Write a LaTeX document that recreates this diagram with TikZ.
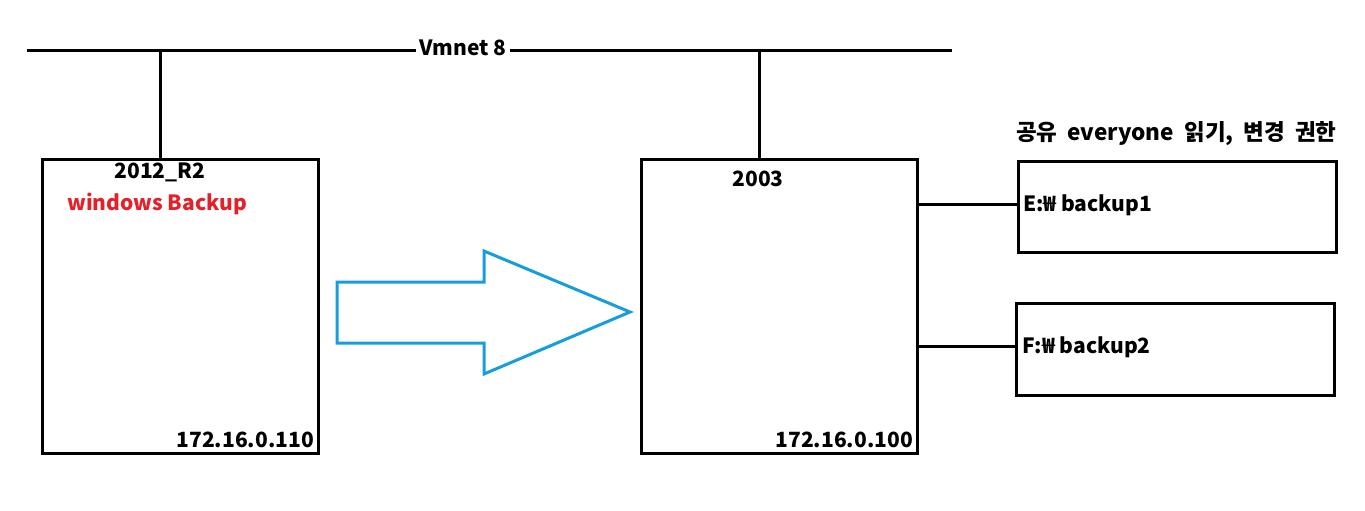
\documentclass[tikz,border=0pt]{standalone}
\usepackage{fontspec}
\setmainfont{Noto Sans CJK KR}
\definecolor{redtxt}{RGB}{228,32,40}
\definecolor{bluearrow}{RGB}{22,158,218}
\newcommand\hdrgap{\spaceskip=0.45em\relax}
\tikzset{
  every node/.style={font=\fontsize{21}{25}\selectfont\bfseries, inner sep=0pt},
  box/.style={draw=black, line width=3pt, anchor=north west},
  wire/.style={draw=black, line width=3pt},
  hdr/.style={font=\fontsize{22.5}{27}\selectfont\bfseries\hdrgap},
}
\begin{document}
\begin{tikzpicture}[x=1pt,y=-1pt]
\useasboundingbox (0,0) rectangle (1365,511);
% network line
\coordinate (netL) at (27,51);
\coordinate (netR) at (952,51);
\draw[wire] (netL) -- (netR);
\node[fill=white, inner xsep=4pt] (vm) at (463,48) {Vmnet 8};
% boxes
\node[box, minimum width=276pt, minimum height=294pt] (b1) at (41,158) {};
\node[box, minimum width=276pt, minimum height=294pt] (b2) at (640,158) {};
\node[box, minimum width=318pt, minimum height=91pt] (be) at (1017,160) {};
\node[box, minimum width=318pt, minimum height=92pt] (bf) at (1015,302) {};
% drops
\coordinate (d1) at (160,51);
\coordinate (d2) at (759,51);
\draw[wire] (d1) -- (d1 |- b1.north);
\draw[wire] (d2) -- (d2 |- b2.north);
% connectors
\coordinate (ce) at (916,204);
\coordinate (cf) at (916,346);
\draw[wire] (ce) -- (ce -| be.west);
\draw[wire] (cf) -- (cf -| bf.west);
% texts
\node (t1) at (160,172) {2012\_R2};
\node[text=redtxt, anchor=west] (t2) at (67,204) {windows Backup};
\node[anchor=east] (t3) at (314,440) {172.16.0.110};
\node (t4) at (758,179) {2003};
\node[anchor=east] (t5) at (913,440) {172.16.0.100};
\node[anchor=west] (t6) at (1023,205) {E:₩ backup1};
\node[anchor=west] (t7) at (1022,347) {F:₩ backup2};
\node[hdr, anchor=west] (t8) at (1016,134) {공유 everyone 읽기, 변경 권한};
% big arrow
\draw[draw=bluearrow, line width=3pt, line join=miter]
  (337,282) -- (484,282) -- (484,251) -- (630,312) -- (484,374) -- (484,343) -- (337,343) -- cycle;
\end{tikzpicture}
\end{document}
